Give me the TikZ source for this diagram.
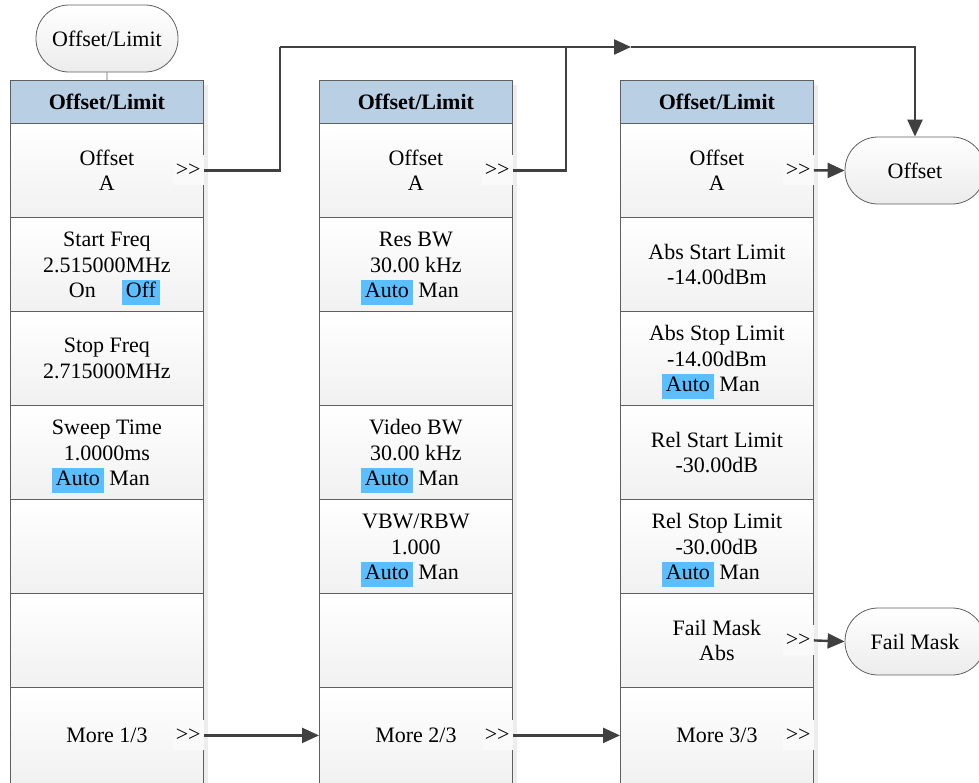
\documentclass[tikz,border=0pt]{standalone}
\usepackage{fontspec}
\setmainfont{Liberation Serif}
\usetikzlibrary{arrows.meta}
\definecolor{hl}{RGB}{90,190,255}
\definecolor{hdr}{RGB}{185,207,228}
\definecolor{bord}{RGB}{95,95,95}
\definecolor{conn}{RGB}{64,64,64}
\newcommand\fs{\fontsize{22}{25.5}\selectfont}
\newcommand\hlbox[1]{{\setlength{\fboxsep}{0pt}\colorbox{hl}{\strut\kern4pt #1\kern4pt}}}
\newcommand\am{\hlbox{Auto} Man\kern12pt}
\newcommand\dblgt{{>}\kern0pt{>}}
\newcommand\tsp{\rule{0pt}{23pt}}
\tikzset{
  cell/.style={draw=bord, line width=0.8pt, top color=white, bottom color=gray!11,
    minimum width=193pt, minimum height=94pt, anchor=north west, align=center,
    inner sep=0pt, font=\fs},
  lastcell/.style={cell, minimum height=96pt},
  hdrbox/.style={draw=bord, line width=0.8pt, fill=hdr, minimum width=193pt,
    minimum height=43pt, anchor=north west, inner sep=0pt, font=\fs\bfseries},
  gt/.style={fill=gray!4, inner sep=3pt, minimum height=30pt, anchor=east, font=\fs},
  oval/.style={draw=bord, line width=0.8pt, rounded corners=33pt, minimum width=140pt,
    minimum height=67pt, top color=white, bottom color=gray!15, font=\fs},
  shadowbox/.style={fill=black!7, draw=none},
  conn/.style={draw=conn, line width=2.4pt},
  arr/.style={-{Triangle[length=17pt,width=15pt]}}
}
\begin{document}
\begin{tikzpicture}[x=1pt,y=-1pt]
\useasboundingbox (0,0) rectangle (979,782);
% shadows
\foreach \xx in {10,319,620} {
  \fill[shadowbox] (\xx+5,85) rectangle (\xx+198,790);
}
% top oval
\node[oval, minimum width=142pt] (ovTop) at (107,38.5) {Offset/Limit};
% column 1
\node[hdrbox] (h1) at (10,80) {Offset/Limit};
\node[cell] (a1) at (10,123) {Offset\\A};
\node[cell] (a2) at (10,217) {\tsp Start Freq\\2.515000MHz\\\kern15pt On\kern26pt\hlbox{Off}};
\node[cell] (a3) at (10,311) {Stop Freq\\2.715000MHz};
\node[cell] (a4) at (10,405) {\tsp Sweep Time\\1.0000ms\\\am};
\node[cell] (a5) at (10,499) {};
\node[cell] (a6) at (10,593) {};
\node[lastcell] (a7) at (10,687) {More 1/3};
\node[gt] (g11) at (a1.east) {\dblgt};
\node[gt] (g17) at (a7.east) {\dblgt};
% column 2
\node[hdrbox] (h2) at (319,80) {Offset/Limit};
\node[cell] (b1) at (319,123) {Offset\\A};
\node[cell] (b2) at (319,217) {\tsp Res BW\\30.00 kHz\\\am};
\node[cell] (b3) at (319,311) {};
\node[cell] (b4) at (319,405) {\tsp Video BW\\30.00 kHz\\\am};
\node[cell] (b5) at (319,499) {\tsp VBW/RBW\\1.000\\\am};
\node[cell] (b6) at (319,593) {};
\node[lastcell] (b7) at (319,687) {More 2/3};
\node[gt] (g21) at (b1.east) {\dblgt};
\node[gt] (g27) at (b7.east) {\dblgt};
% column 3
\node[hdrbox] (h3) at (620,80) {Offset/Limit};
\node[cell] (c1) at (620,123) {Offset\\A};
\node[cell] (c2) at (620,217) {Abs Start Limit\\-14.00dBm};
\node[cell] (c3) at (620,311) {\tsp Abs Stop Limit\\-14.00dBm\\\am};
\node[cell] (c4) at (620,405) {Rel Start Limit\\-30.00dB};
\node[cell] (c5) at (620,499) {\tsp Rel Stop Limit\\-30.00dB\\\am};
\node[cell] (c6) at (620,593) {Fail Mask\\Abs};
\node[lastcell] (c7) at (620,687) {More 3/3};
\node[gt] (g31) at (c1.east) {\dblgt};
\node[gt] (g36) at (c6.east) {\dblgt};
\node[gt] (g37) at (c7.east) {\dblgt};
% right ovals
\node[oval] (ovOff) at (915,170.5) {Offset};
\node[oval] (ovFail) at (915,641.5) {Fail Mask};
% connectors
\draw[draw=bord, line width=0.8pt] (ovTop.south) -- (h1.north);
\coordinate (j1) at (280,47);
\coordinate (j2) at (566,47);
\coordinate (mid) at (631,47);
\draw[conn] (g11.east) -| (j1);
\draw[conn] (g21.east) -| (j2);
\draw[conn, arr] (j1) -- (mid);
\draw[conn, arr] (mid) -| (ovOff.north);
\draw[conn, arr] (g31.east) -- (ovOff.west);
\draw[conn, arr] (g36.east) -- (ovFail.west);
\draw[conn, arr] (g17.east) -- (b7.west);
\draw[conn, arr] (g27.east) -- (c7.west);
\end{tikzpicture}
\end{document}
